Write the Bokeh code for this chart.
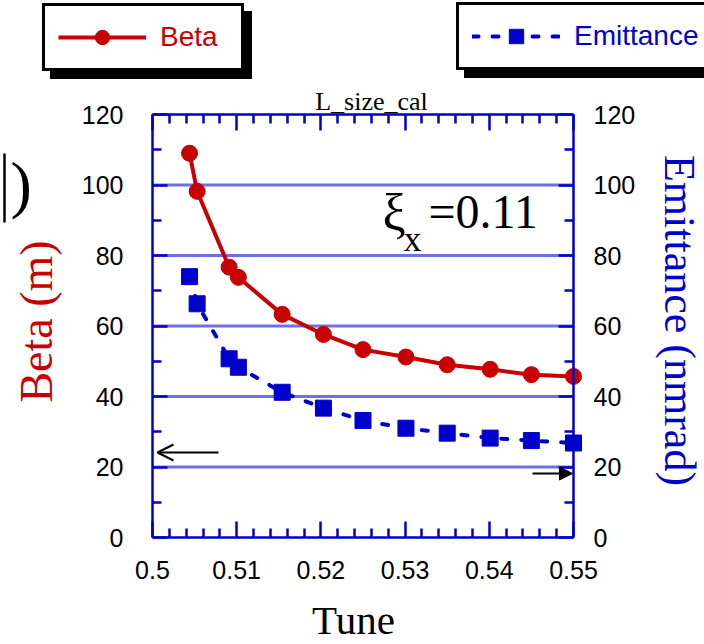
import math

from bokeh.plotting import figure
from bokeh.models import (Range1d, LinearAxis, FixedTicker, Label, Arrow,
                          OpenHead, NormalHead, Legend, LegendItem)
from bokeh.embed import file_html
from bokeh.resources import INLINE

# ---- data -----------------------------------------------------------------
tune = [0.5044, 0.5053, 0.5091, 0.5102, 0.5154, 0.5203, 0.5250, 0.5301,
        0.5350, 0.5401, 0.5450, 0.5500]
beta = [109.0, 98.2, 76.7, 73.8, 63.3, 57.6, 53.3, 51.2, 49.0, 47.7, 46.2, 45.7]
emittance = [74.0, 66.3, 50.7, 48.3, 41.2, 36.7, 33.2, 31.0, 29.6, 28.2, 27.5, 26.8]

x_ticks = [0.5, 0.51, 0.52, 0.53, 0.54, 0.55]
x_tick_labels = ["0.5", "0.51", "0.52", "0.53", "0.54", "0.55"]
y_ticks = [0, 20, 40, 60, 80, 100, 120]
grid_ticks = [20, 40, 60, 80, 100]

RED = "#c80000"
BLUE = "#0000cc"
GRID = "#6e6ee6"
SERIF = "Liberation Serif"
SANS = "Liberation Sans"

# ---- canvas geometry: the plot box sits inside a full-canvas frame ----------
W, H = 704, 644
FL, FR, FT, FB = 152, 573, 114, 537
X0, X1, Y0, Y1 = 0.5, 0.55, 0.0, 120.0
BASE_SHIFT = 0.36   # em fraction between the label anchor and the drawn baseline


def px_x(sx):
    return X0 + (sx - FL) * (X1 - X0) / (FR - FL)


def px_y(sy):
    return Y0 + (FB - sy) * (Y1 - Y0) / (FB - FT)


p = figure(width=W, height=H, title=None,
           x_range=Range1d(px_x(0), px_x(W)), y_range=Range1d(px_y(H), px_y(0)),
           output_backend="svg", toolbar_location=None,
           x_axis_location=None, y_axis_location=None,
           min_border=0, background_fill_color="white",
           border_fill_color="white", outline_line_color=None)
p.extra_y_ranges = {"emit": Range1d(px_y(H), px_y(0))}
p.xgrid.visible = False
p.ygrid.visible = False

# horizontal grid lines across the plot box
p.segment(x0=[X0] * len(grid_ticks), x1=[X1] * len(grid_ticks),
          y0=grid_ticks, y1=grid_ticks, line_color=GRID, line_width=3,
          level="underlay")


def style(ax, label_standoff, show_labels=True):
    ax.axis_line_color = BLUE
    ax.axis_line_width = 2.5
    ax.major_tick_line_color = BLUE
    ax.major_tick_line_width = 2.5
    ax.minor_tick_line_color = BLUE
    ax.minor_tick_line_width = 2.5
    ax.major_tick_out = 0
    ax.minor_tick_out = 0
    ax.major_label_standoff = label_standoff
    ax.major_label_text_font = SANS
    ax.major_label_text_font_size = "25px" if show_labels else "0px"
    ax.major_label_text_color = "black"
    if not show_labels:
        ax.major_label_text_alpha = 0


y_minor = [10, 30, 50, 70, 90, 110]
x_minor = [round(0.5 + 0.002 * i, 3) for i in range(26) if i % 5 != 0]

left = LinearAxis(ticker=FixedTicker(ticks=y_ticks, minor_ticks=y_minor),
                  fixed_location=X0, bounds=(Y0, Y1),
                  major_tick_in=15, minor_tick_in=9)
style(left, 29)
p.add_layout(left, "left")

right = LinearAxis(y_range_name="emit",
                   ticker=FixedTicker(ticks=y_ticks, minor_ticks=y_minor),
                   fixed_location=X1, bounds=(Y0, Y1),
                   major_tick_in=15, minor_tick_in=9)
style(right, 20)
p.add_layout(right, "right")

bottom = LinearAxis(ticker=FixedTicker(ticks=x_ticks, minor_ticks=x_minor),
                    fixed_location=Y0, bounds=(X0, X1),
                    major_tick_in=16, minor_tick_in=9,
                    major_label_overrides=dict(zip(x_ticks, x_tick_labels)))
style(bottom, 23)
p.add_layout(bottom, "below")

top = LinearAxis(ticker=FixedTicker(ticks=x_ticks, minor_ticks=x_minor),
                 fixed_location=Y1, bounds=(X0, X1),
                 major_tick_in=16, minor_tick_in=9)
style(top, 0, show_labels=False)
p.add_layout(top, "above")

# ---- series -----------------------------------------------------------------
beta_line = p.line(tune, beta, line_color=RED, line_width=4)
beta_pts = p.scatter(tune, beta, marker="circle", size=16,
                     fill_color=RED, line_color=RED)

emit_line = p.line(tune, emittance, line_color=BLUE, line_width=4,
                   line_dash="6 14", line_cap="round", y_range_name="emit")
emit_pts = p.scatter(tune, emittance, marker="square", size=16,
                     fill_color=BLUE, line_color=BLUE, y_range_name="emit")


# ---- legend boxes with drop shadows ------------------------------------------
def legend_box(label, renderers, left_px, bottom_px, text_color,
               label_width=68, shadow=False):
    return Legend(items=[LegendItem(label=" " if shadow else label,
                                    renderers=renderers)],
                  location=(left_px, H - bottom_px), orientation="vertical",
                  margin=0, padding=13, spacing=0,
                  glyph_width=88, glyph_height=36,
                  label_width=label_width, label_height=36, label_standoff=14,
                  label_text_font=SANS, label_text_font_size="28px",
                  label_text_color=text_color,
                  border_line_color="black", border_line_width=3,
                  border_line_alpha=1,
                  background_fill_color="black" if shadow else "white",
                  background_fill_alpha=1)


SHADOW = 8
p.add_layout(legend_box("Beta", [beta_line, beta_pts], 42 + SHADOW, 71 + SHADOW,
                        RED, shadow=True))
p.add_layout(legend_box("Beta", [beta_line, beta_pts], 42, 71, RED))
p.add_layout(legend_box("Emittance", [emit_line, emit_pts], 456 + SHADOW, 70 + SHADOW,
                        BLUE, label_width=140, shadow=True))
p.add_layout(legend_box("Emittance", [emit_line, emit_pts], 456, 70, BLUE))


# ---- texts -------------------------------------------------------------------
def text_at(sx, sy, text, size, color="black", align="left", angle=0.0):
    """Place a serif label whose baseline passes through pixel (sx, sy)."""
    shift = BASE_SHIFT * size
    ax = sx - shift * math.sin(angle)
    ay = sy - shift * math.cos(angle)
    p.add_layout(Label(x=px_x(ax), y=px_y(ay), text=text, angle=angle,
                       text_align=align, text_baseline="alphabetic",
                       text_font=SERIF, text_font_size=f"{size}px",
                       text_color=color))


text_at(371, 110, "L_size_cal", 26, align="center")
text_at(382, 231, "ξ", 52)
text_at(403, 251, "x", 36)
text_at(428, 228, "=0.11", 48)

text_at(53, 321, "Beta (m)", 46, color=RED, align="center", angle=math.pi / 2)
text_at(663, 320, "Emittance (nmrad)", 44, color=BLUE, align="center",
        angle=-math.pi / 2)
text_at(353, 634, "Tune", 41, align="center")

# fragment at the left margin
text_at(10, 207, ")", 64)
p.add_layout(Arrow(end=None, x_start=px_x(4), y_start=px_y(153),
                   x_end=px_x(4), y_end=px_y(222),
                   line_color="black", line_width=2.5))

# axis pointers
p.add_layout(Arrow(end=OpenHead(size=16, line_width=2, line_color="black"),
                   x_start=px_x(218), y_start=px_y(452),
                   x_end=px_x(157), y_end=px_y(452),
                   line_color="black", line_width=2))
p.add_layout(Arrow(end=NormalHead(size=13, line_color="black", fill_color="black"),
                   x_start=px_x(532), y_start=px_y(473),
                   x_end=px_x(572), y_end=px_y(473),
                   line_color="black", line_width=2))

open("out.html", "w").write(file_html(p, INLINE))
